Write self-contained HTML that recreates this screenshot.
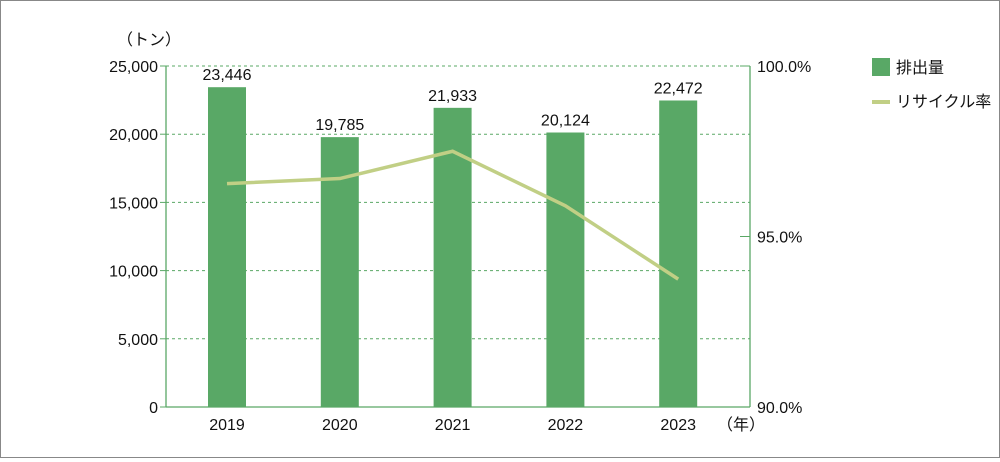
<!DOCTYPE html>
<html><head><meta charset="utf-8">
<style>
html,body{margin:0;padding:0;background:#fff}
#wrap{width:1000px;height:458px;position:relative;box-sizing:border-box;border:1px solid #888}
text{font-family:"Liberation Sans","Noto Sans CJK JP",sans-serif;fill:#111}
</style></head>
<body>
<div id="wrap">
<svg id="chart" width="998" height="456"></svg>
</div>
<script>
const categories = ["2019","2020","2021","2022","2023"];
const emissions = [23446,19785,21933,20124,22472];
const emissionLabels = ["23,446","19,785","21,933","20,124","22,472"];
const recycleRate = [96.55,96.7,97.5,95.9,93.75];
const leftTicks = [0,5000,10000,15000,20000,25000];
const leftTickLabels = ["0","5,000","10,000","15,000","20,000","25,000"];
const rightTicks = [90,95,100];
const rightTickLabels = ["90.0%","95.0%","100.0%"];

const NS="http://www.w3.org/2000/svg";
const svg=document.getElementById('chart');
const X0=165,X1=749,Y0=406,Y1=65;
const yL=v=>Y0-(v/25000)*(Y0-Y1);
const yR=v=>Y0-((v-90)/10)*(Y0-Y1);
const xC=i=>X0+61+i*112.8;
function mk(tag,attrs,txt){const e=document.createElementNS(NS,tag);for(const k in attrs)e.setAttribute(k,attrs[k]);if(txt!==undefined)e.textContent=txt;svg.appendChild(e);return e;}

leftTicks.forEach((t,i)=>{
  if(t>0){const g=mk('line',{x1:X0,x2:X1,y1:yL(t),y2:yL(t),stroke:'#5aa866','stroke-width':1,'stroke-dasharray':'3,3'});
  
  }
  const tk=mk('line',{x1:X0-6,x2:X0,y1:yL(t),y2:yL(t),stroke:'#5aa866','stroke-width':1});
  
  
  const lb=mk('text',{x:X0-8,y:yL(t)+6,'text-anchor':'end','font-size':16},leftTickLabels[i]);
  
  
});
rightTicks.forEach((t,i)=>{
  const tk=mk('line',{x1:X1-10,x2:X1,y1:yR(t),y2:yR(t),stroke:'#5aa866','stroke-width':1});
  
  
  const lb=mk('text',{x:X1+7,y:yR(t)+6,'font-size':16},rightTickLabels[i]);
  
  
});
let a=mk('line',{x1:X0,x2:X0,y1:Y1,y2:Y0,stroke:'#5aa866','stroke-width':1.3});

a=mk('line',{x1:X1,x2:X1,y1:Y1,y2:Y0,stroke:'#5aa866','stroke-width':1.3});

a=mk('line',{x1:X0,x2:X1,y1:Y0,y2:Y0,stroke:'#5aa866','stroke-width':1.3});


categories.forEach((c,i)=>{
  const b=mk('rect',{x:xC(i)-19,y:yL(emissions[i]),width:38,height:Y0-yL(emissions[i]),fill:'#59a866'});
  
  
  const v=mk('text',{x:xC(i),y:yL(emissions[i])-7,'text-anchor':'middle','font-size':16},emissionLabels[i]);
  
  
  const l=mk('text',{x:xC(i),y:429,'text-anchor':'middle','font-size':16},c);
  
  
});
const pts=recycleRate.map((v,i)=>xC(i)+','+yR(v)).join(' ');
const pl=mk('polyline',{points:pts,fill:'none',stroke:'#c1cf85','stroke-width':3.5});



let t=mk('text',{x:116,y:44,'font-size':16},'（トン）');

t=mk('text',{x:716,y:429,'font-size':16},'（年）');


let r=mk('rect',{x:871,y:57,width:18,height:18,fill:'#59a866'});

t=mk('text',{x:895,y:72,'font-size':16},'排出量');

r=mk('rect',{x:871,y:99,width:18,height:4,fill:'#c1cf85'});

t=mk('text',{x:895,y:106,'font-size':16},'リサイクル率');

</script>
</body></html>
